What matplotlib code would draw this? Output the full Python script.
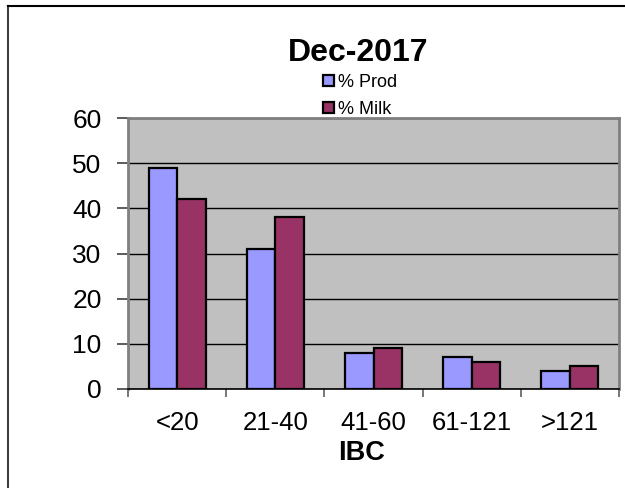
import numpy as np
import matplotlib.pyplot as plt
from matplotlib.lines import Line2D
from matplotlib.patches import Patch

categories = ['<20', '21-40', '41-60', '61-121', '>121']
prod = [49, 31, 8, 7, 4]
milk = [42, 38, 9, 6, 5]
series_names = ['% Prod', '% Milk']
colors = ['#9999ff', '#993366']

plt.rcParams['font.family'] = ['Liberation Sans', 'DejaVu Sans']

W, H = 625, 488
fig = plt.figure(figsize=(W / 100, H / 100), dpi=100)
ax = fig.add_axes([128 / W, 1 - 389 / H, (619 - 128) / W, (389 - 118) / H])
ax.set_facecolor('#c0c0c0')

x = np.arange(len(categories)) + 0.5
bw = 0.29
ax.bar(x - bw / 2, prod, bw, color=colors[0], edgecolor='black', linewidth=1.6, zorder=3)
ax.bar(x + bw / 2, milk, bw, color=colors[1], edgecolor='black', linewidth=1.6, zorder=3)

ax.set_xlim(0, len(categories))
ax.set_ylim(0, 60)
ax.set_yticks(range(0, 61, 10))
ax.yaxis.grid(True, color='black', linewidth=1)
ax.set_axisbelow(True)

# category boundaries get the tick marks, labels sit in the middle
ax.set_xticks(range(len(categories) + 1))
ax.set_xticklabels([])
ax.set_xticks(x, minor=True)
ax.set_xticklabels(categories, minor=True, fontsize=18.5)
ax.tick_params(axis='x', which='major', length=6, width=1.2, color='#606060', direction='out')
ax.tick_params(axis='x', which='minor', length=0, pad=16)
ax.tick_params(axis='y', length=8, width=1.2, color='#404040', pad=11, labelsize=19)

for s in ['top', 'right', 'left']:
    ax.spines[s].set_color('#808080')
    ax.spines[s].set_linewidth(2)
ax.spines['bottom'].set_color('black')
ax.spines['bottom'].set_linewidth(1.2)

fig.text(361 / W, 1 - 453 / H, 'IBC', fontsize=19.5, fontweight='bold',
         ha='center', va='center')

fig.text(358 / W, 1 - 53 / H, 'Dec-2017', fontsize=23, fontweight='bold',
         ha='center', va='center')

handles = [Patch(facecolor=c, edgecolor='black', linewidth=1.6) for c in colors]
fig.legend(handles, series_names, loc='center', bbox_to_anchor=(360 / W, 1 - 96 / H),
           frameon=False, fontsize=13, handlelength=0.6, handleheight=0.6,
           handletextpad=0.2, labelspacing=0.55, borderpad=0)

# chart area border (only left and top are inside the picture)
fig.add_artist(Line2D([8 / W, 8 / W], [0, 1 - 6 / H], color='#404040', linewidth=1.5))
fig.add_artist(Line2D([8 / W, 1], [1 - 6 / H, 1 - 6 / H], color='black', linewidth=1.5))

fig.savefig('out.png', dpi=100)
